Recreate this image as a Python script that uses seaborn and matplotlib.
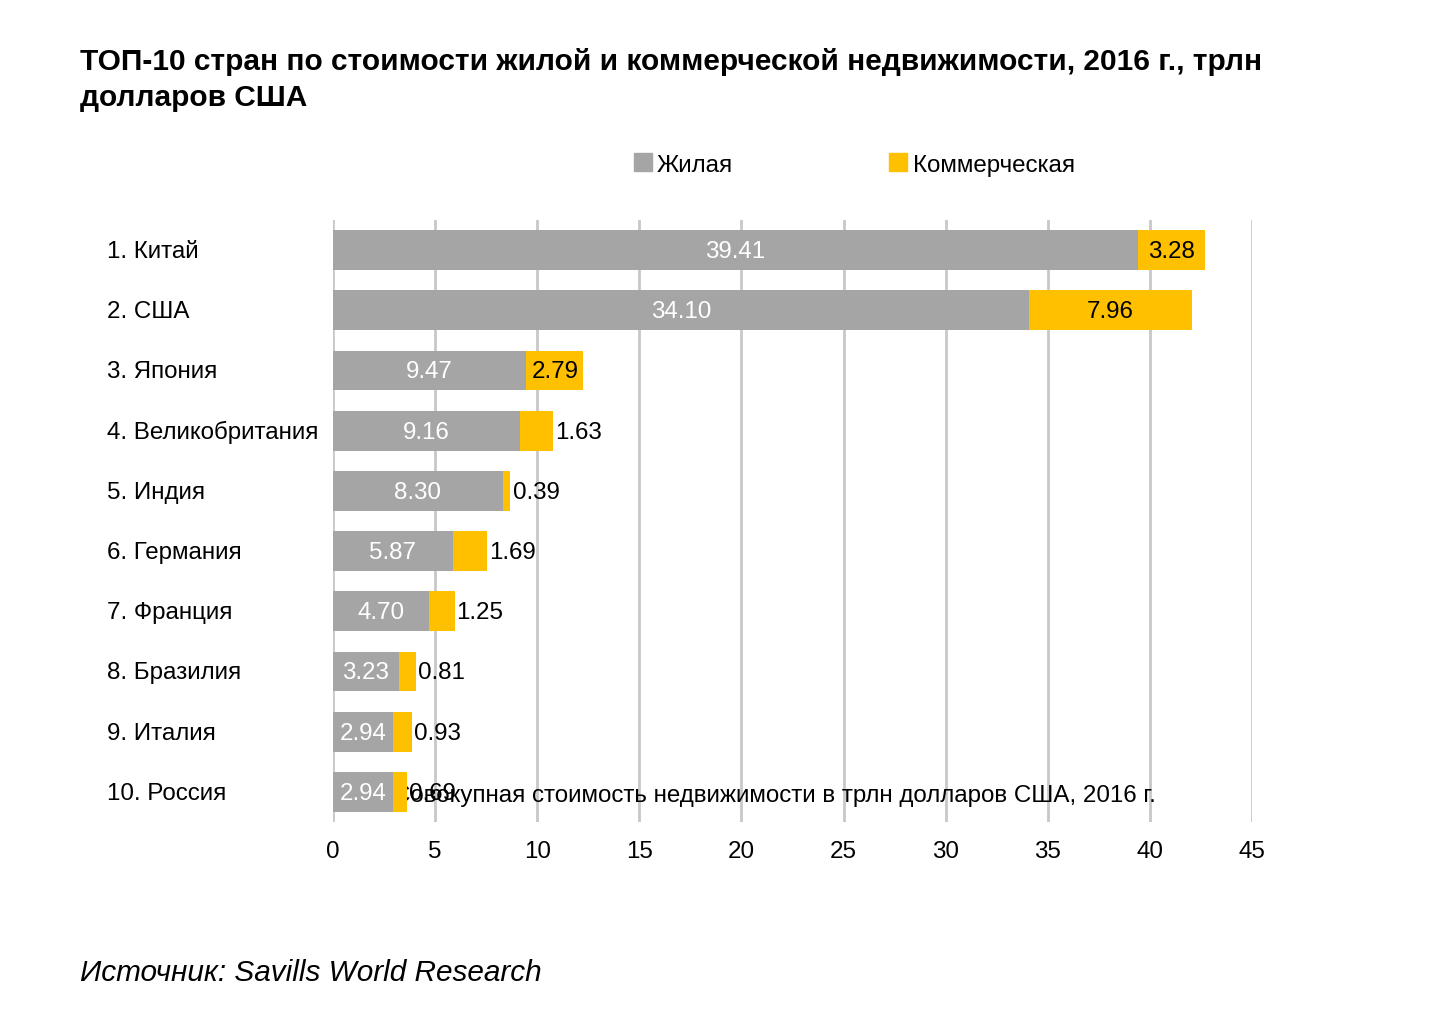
import numpy as np
import pandas as pd
import matplotlib
matplotlib.use('Agg')
import matplotlib.pyplot as plt
import matplotlib.transforms as mtrans
import seaborn as sns

# data
countries = ['1. Китай', '2. США', '3. Япония', '4. Великобритания', '5. Индия',
             '6. Германия', '7. Франция', '8. Бразилия', '9. Италия', '10. Россия']
residential = [39.41, 34.10, 9.47, 9.16, 8.30, 5.87, 4.70, 3.23, 2.94, 2.94]
commercial = [3.28, 7.96, 2.79, 1.63, 0.39, 1.69, 1.25, 0.81, 0.93, 0.69]
xticks = [0, 5, 10, 15, 20, 25, 30, 35, 40, 45]

GRAY = '#A5A5A5'
YELLOW = '#FFC000'
FS = 17.4

sns.set_theme(style='white')
plt.rcParams['font.family'] = ['Liberation Sans', 'DejaVu Sans']
plt.rcParams['text.color'] = 'black'
plt.rcParams['xtick.color'] = 'black'

df = pd.DataFrame({'country': countries, 'res': residential, 'com': commercial})
df['total'] = df['res'] + df['com']

fig = plt.figure(figsize=(14.4, 10.18), dpi=100)
ax = fig.add_axes([333 / 1440, 1 - 822 / 1018, 919 / 1440, 602 / 1018])

# stacked look: total in yellow, residential in gray on top
sns.barplot(data=df, x='total', y='country', color=YELLOW, saturation=1,
            width=0.66, linewidth=0, ax=ax, zorder=3)
sns.barplot(data=df, x='res', y='country', color=GRAY, saturation=1,
            width=0.66, linewidth=0, ax=ax, zorder=4)

ax.set_xlim(0, 45)
ax.set_ylim(9.5, -0.5)
ax.set_xticks(xticks)
ax.set_xticklabels([str(t) for t in xticks], fontsize=FS)
ax.tick_params(axis='x', length=0, pad=14)
ax.set_xlabel('')
ax.set_ylabel('')
ax.set_yticks(range(len(countries)))
ax.set_yticklabels([])
ax.tick_params(axis='y', length=0)
for s in ax.spines.values():
    s.set_visible(False)
for t in xticks:
    ax.axvline(t, color='#C8C8C8', lw=2, zorder=1)

# country names, left aligned at x=107px
lab_tr = mtrans.blended_transform_factory(fig.transFigure, ax.transData)
for i, c in enumerate(countries):
    ax.text(107 / 1440, i + 0.03, c, transform=lab_tr,
            fontsize=FS, ha='left', va='center')

# value labels
for i in range(len(countries)):
    r = residential[i]
    c = commercial[i]
    ax.text(r / 2, i + 0.03, f'{r:.2f}', color='white', fontsize=FS, ha='center', va='center', zorder=6)
    if c > 2.5:
        ax.text(r + c / 2, i + 0.03, f'{c:.2f}', fontsize=FS, ha='center', va='center', zorder=6)
    else:
        ax.text(r + c + 0.1, i + 0.03, f'{c:.2f}', fontsize=FS, ha='left', va='center', zorder=6)

# axis title, sitting behind the bars as in the original
ax.text(21.6, 9.07, 'Совокупная стоимость недвижимости в трлн долларов США, 2016 г.',
        fontsize=FS, ha='center', va='center', zorder=2)

# legend
fig.patches.append(plt.Rectangle((634 / 1440, 1 - 171 / 1018), 18 / 1440, 18 / 1018,
                                 color=GRAY, transform=fig.transFigure))
fig.text(657 / 1440, 1 - 166 / 1018, 'Жилая', fontsize=FS, va='center')
fig.patches.append(plt.Rectangle((889 / 1440, 1 - 171 / 1018), 18 / 1440, 18 / 1018,
                                 color=YELLOW, transform=fig.transFigure))
fig.text(913 / 1440, 1 - 166 / 1018, 'Коммерческая', fontsize=FS, va='center')

fig.text(80 / 1440, 1 - 62 / 1018,
         'ТОП-10 стран по стоимости жилой и коммерческой недвижимости, 2016 г., трлн',
         fontsize=21.5, fontweight='bold', va='center')
fig.text(80 / 1440, 1 - 98 / 1018, 'долларов США',
         fontsize=21.5, fontweight='bold', va='center')
fig.text(80 / 1440, 1 - 973 / 1018, 'Источник: Savills World Research',
         fontsize=21.4, style='italic', va='center')

fig.savefig('out.png', dpi=100)
